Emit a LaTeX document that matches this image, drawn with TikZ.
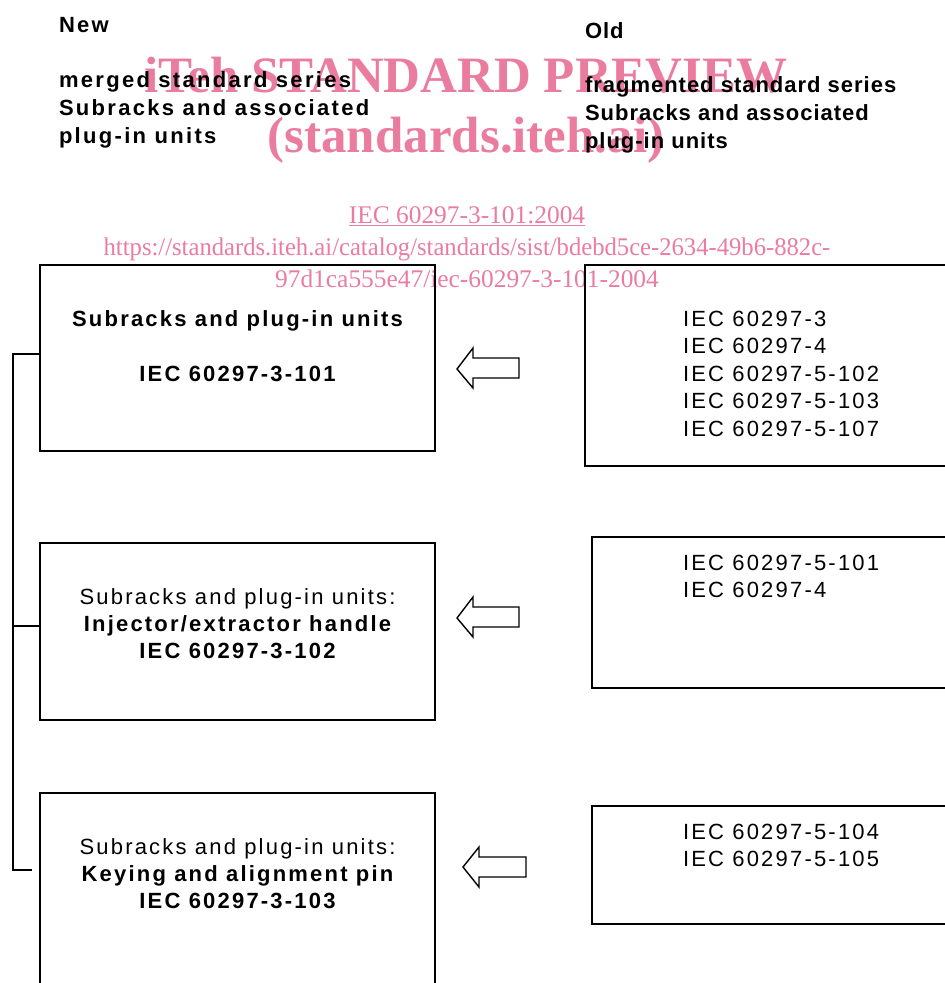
\documentclass[tikz,border=0pt]{standalone}
\usepackage{fontspec}
\setmainfont{Liberation Sans}
\newfontfamily\lsfont[LetterSpace=10]{Liberation Sans}
\newfontfamily\lsleft[LetterSpace=10.5]{Liberation Sans}
\newfontfamily\lsright[LetterSpace=4.5]{Liberation Sans}
\newfontfamily\wmfont{Liberation Serif}
\definecolor{wmpink}{RGB}{234,124,160}
\begin{document}
\begin{tikzpicture}[x=1pt,y=-1pt,
  box/.style={draw=black,line width=1.4pt,inner sep=0pt,outer sep=0pt,anchor=north west},
  txt/.style={inner sep=0pt,outer sep=0pt,font=\lsfont\fontsize{22}{26}\selectfont},
  bld/.style={font=\lsfont\bfseries\fontsize{22}{26}\selectfont},
  hdrl/.style={inner sep=0pt,outer sep=0pt,anchor=base west,font=\lsleft\bfseries\fontsize{22}{26}\selectfont},
  hdrr/.style={inner sep=0pt,outer sep=0pt,anchor=base west,font=\lsright\bfseries\fontsize{22}{26}\selectfont},
  ctr/.style={txt,anchor=base},
  lft/.style={txt,anchor=base west},
  wmbig/.style={inner sep=0pt,text=wmpink,anchor=base,font=\wmfont\bfseries\fontsize{51}{55}\selectfont},
  wmsmall/.style={inner sep=0pt,text=wmpink,anchor=base,font=\wmfont\fontsize{25.4}{28}\selectfont},
  line/.style={draw=black,line width=1.4pt},
  hollow/.style={draw=black,line width=1.4pt,fill=white,line join=miter}]
\useasboundingbox (0,0) rectangle (945,983);
\clip (0,0) rectangle (945,983);
% watermark (behind)
\node[wmbig] (wm1) at (466,92.5) {iTeh STANDARD PREVIEW};
\node[wmbig] (wm2) at (466,152) {(standards.iteh.ai)};
\node[wmsmall] (wm3) at (467,223) {\underline{IEC 60297-3-101:2004}};
\node[wmsmall] (wm4) at (467,255) {\scalebox{0.97}[1]{https://standards.iteh.ai/catalog/standards/sist/bdebd5ce-2634-49b6-882c-}};
\node[wmsmall] (wm5) at (467,287) {97d1ca555e47/iec-60297-3-101-2004};
% headers
\node[hdrl] (new) at (59,32) {New};
\node[hdrl] (n1) at (59,87) {merged standard series};
\node[hdrl] (n2) at (59,115) {Subracks and associated};
\node[hdrl] (n3) at (59,143) {plug-in units};
\node[hdrr] (old) at (585,38) {Old};
\node[hdrr] (o1) at (585,92) {fragmented standard series};
\node[hdrr] (o2) at (585,120) {Subracks and associated};
\node[hdrr] (o3) at (585,148) {plug-in units};
% left boxes
\node[box,minimum width=395pt,minimum height=186pt] (b1) at (40,265) {};
\node[box,minimum width=395pt,minimum height=177pt] (b2) at (40,543) {};
\node[box,minimum width=395pt,minimum height=210pt] (b3) at (40,793) {};
% right boxes
\node[box,minimum width=380pt,minimum height=201pt] (r1) at (585,265) {};
\node[box,minimum width=380pt,minimum height=151pt] (r2) at (592,537) {};
\node[box,minimum width=380pt,minimum height=118pt] (r3) at (592,806) {};
% left box texts
\node[ctr,bld] (t11) at (237.5,326) {Subracks and plug-in units};
\node[ctr,bld] (t12) at (237.5,381) {IEC 60297-3-101};
\node[ctr] (t21) at (237.5,604) {Subracks and plug-in units:};
\node[ctr,bld] (t22) at (237.5,631) {Injector/extractor handle};
\node[ctr,bld] (t23) at (237.5,658) {IEC 60297-3-102};
\node[ctr] (t31) at (237.5,854) {Subracks and plug-in units:};
\node[ctr,bld] (t32) at (237.5,881) {Keying and alignment pin};
\node[ctr,bld] (t33) at (237.5,908) {IEC 60297-3-103};
% right box texts
\node[lft] (s11) at (683,326) {IEC 60297-3};
\node[lft] (s12) at (683,353) {IEC 60297-4};
\node[lft] (s13) at (683,381) {IEC 60297-5-102};
\node[lft] (s14) at (683,408) {IEC 60297-5-103};
\node[lft] (s15) at (683,436) {IEC 60297-5-107};
\node[lft] (s21) at (683,570) {IEC 60297-5-101};
\node[lft] (s22) at (683,597) {IEC 60297-4};
\node[lft] (s31) at (683,839) {IEC 60297-5-104};
\node[lft] (s32) at (683,866) {IEC 60297-5-105};
% bracket
\coordinate (k1) at (13,354);
\coordinate (k2) at (13,626);
\coordinate (k3) at (13,870);
\coordinate (k3e) at (32,870);
\draw[line] (b1.west |- k1) -- (k1) -- (k3) -- (k3e);
\draw[line] (k2) -- (b2.west |- k2);
% hollow arrows
\draw[hollow] (457,369) -- (473,348) -- (473,358) -- (519,358) -- (519,378) -- (473,378) -- (473,388) -- cycle;
\draw[hollow] (457,618) -- (473,597) -- (473,607) -- (519,607) -- (519,627) -- (473,627) -- (473,637) -- cycle;
\draw[hollow] (463,867) -- (479,847) -- (479,857) -- (526,857) -- (526,877) -- (479,877) -- (479,887) -- cycle;
\end{tikzpicture}
\end{document}
